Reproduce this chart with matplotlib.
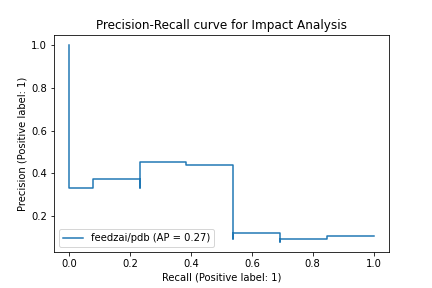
import matplotlib
matplotlib.use("Agg")
import matplotlib.pyplot as plt

recall = [1.0, 0.846, 0.692, 0.692, 0.538, 0.538, 0.385, 0.231, 0.231, 0.077, 0.0]
precision = [0.107, 0.093, 0.077, 0.120, 0.090, 0.4375, 0.4545, 0.333, 0.375, 0.333, 1.0]
label = "feedzai/pdb (AP = 0.27)"

fig, ax = plt.subplots(figsize=(6, 4), dpi=72)
fig.subplots_adjust(left=0.125, right=0.9, bottom=0.125, top=0.877)
ax.plot(recall, precision, drawstyle="steps-post", label=label)
ax.set_xlabel("Recall (Positive label: 1)")
ax.set_ylabel("Precision (Positive label: 1)")
ax.set_title("Precision-Recall curve for Impact Analysis")
ax.legend(loc="lower left")
fig.savefig("out.png", dpi=72)
